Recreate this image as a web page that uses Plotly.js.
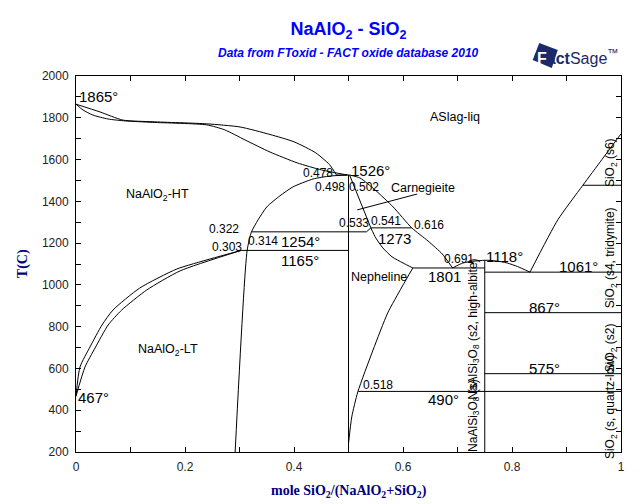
<!DOCTYPE html>
<html><head><meta charset="utf-8">
<script src="https://cdn.plot.ly/plotly-3.0.1.min.js"></script>
<style>html,body{margin:0;padding:0;background:#fff}#chart{width:640px;height:504px}</style>
</head><body><div id="chart"></div>
<script>
// x = mole SiO2/(NaAlO2+SiO2), T in °C
const liqNaAlO2X = [0, 0.044, 0.086, 0.141, 0.240, 0.301, 0.356, 0.400, 0.440, 0.465, 0.478];
const liqNaAlO2T = [1865, 1828, 1789, 1781, 1771, 1756, 1720, 1685, 1632, 1576, 1526];
const solNaAlO2X = [0, 0.013, 0.031, 0.059, 0.090, 0.141, 0.240, 0.273, 0.310, 0.356, 0.406, 0.451, 0.498];
const solNaAlO2T = [1865, 1837, 1813, 1794, 1785, 1778, 1766, 1742, 1694, 1636, 1584, 1550, 1526];
const solvusX = [0.292, 0.314, 0.322, 0.334, 0.350, 0.374, 0.398, 0.435, 0.466, 0.498];
const solvusT = [200, 1165, 1254, 1311, 1373, 1426, 1469, 1507, 1521, 1526];
const ltOuterX = [0, 0.0073, 0.0257, 0.0477, 0.068, 0.117, 0.185, 0.246, 0.303];
const ltOuterT = [467, 607, 703, 808, 880, 985, 1076, 1124, 1165];
const ltInnerX = [0, 0.0165, 0.035, 0.059, 0.084, 0.130, 0.191, 0.303];
const ltInnerT = [467, 607, 698, 808, 880, 976, 1067, 1165];
const carnSolX = [0.502, 0.541];
const carnSolT = [1526, 1273];
const carnTieX = [0.533, 0.541];
const carnTieT = [1254, 1273];
const nephUpX = [0.541, 0.550, 0.563, 0.580, 0.600, 0.618];
const nephUpT = [1273, 1225, 1177, 1134, 1105, 1081];
const nephLowX = [0.500, 0.506, 0.517, 0.545, 0.572, 0.598, 0.618];
const nephLowT = [240, 368, 487, 688, 866, 990, 1081];
const liqCarnX = [0.502, 0.521, 0.549, 0.582, 0.616, 0.646, 0.672, 0.691];
const liqCarnT = [1526, 1512, 1454, 1373, 1273, 1210, 1148, 1081];
const liqAlbX = [0.691, 0.710, 0.732, 0.750, 0.770, 0.791, 0.810, 0.833];
const liqAlbT = [1081, 1105, 1114, 1118, 1115, 1105, 1088, 1061];
const liqSilX = [0.833, 0.884, 0.930, 0.965, 1.0];
const liqSilT = [1061, 1311, 1477, 1600, 1723];
// invariant (horizontal) lines
const invT  = [1526, 1254, 1165, 1273, 1081, 1061, 867, 575, 490, 1477];
const invX0 = [0.478, 0.322, 0.303, 0.541, 0.618, 0.75, 0.75, 0.75, 0.518, 0.930];
const invX1 = [0.502, 0.533, 0.500, 0.616, 0.750, 1.0, 1.0, 1.0, 1.0, 1.0];
// compound (vertical) lines
const compX = [0.5, 0.75];
const compTop = [1526, 1118];
const compBottom = [200, 200];
// carnegieite label leader
const leaderX = [0.516, 0.626];
const leaderT = [1359, 1435];

const traces = [];
function addLine(x, y, curved) {
  const line = {color: '#000', width: 1};
  if (curved) { line.shape = 'spline'; line.smoothing = 0.6; }
  traces.push({x: x, y: y, type: 'scatter', mode: 'lines', line: line,
    hoverinfo: 'skip', showlegend: false});
}
addLine(liqNaAlO2X, liqNaAlO2T, true);
addLine(solNaAlO2X, solNaAlO2T, true);
addLine(solvusX, solvusT, true);
addLine(ltOuterX, ltOuterT, true);
addLine(ltInnerX, ltInnerT, true);
addLine(carnSolX, carnSolT, false);
addLine(carnTieX, carnTieT, false);
addLine(nephUpX, nephUpT, true);
addLine(nephLowX, nephLowT, true);
addLine(liqCarnX, liqCarnT, true);
addLine(liqAlbX, liqAlbT, true);
addLine(liqSilX, liqSilT, true);
addLine(leaderX, leaderT, false);
for (let i = 0; i < invT.length; i++) addLine([invX0[i], invX1[i]], [invT[i], invT[i]], false);
for (let i = 0; i < compX.length; i++) addLine([compX[i], compX[i]], [compBottom[i], compTop[i]], false);

const F = 'Liberation Sans, Arial, sans-serif';
const BIG = 15, SMALL = 12, PH = 12.5;
// [text, x, T, size, xanchor, angle]
const labels = [
  ['1865°', 0.004, 1900, BIG, 'left', 0],
  ['ASlag-liq', 0.695, 1804, PH, 'center', 0],
  ['1723°', 1.003, 1741, BIG, 'right', 0],
  ['1526°', 0.503, 1550, BIG, 'left', 0],
  ['0.478', 0.473, 1536, SMALL, 'right', 0],
  ['0.498', 0.495, 1469, SMALL, 'right', 0],
  ['0.502', 0.499, 1469, SMALL, 'left', 0],
  ['Carnegieite', 0.576, 1464, PH, 'left', 0],
  ['NaAlO<sub>2</sub>-HT', 0.090, 1430, PH, 'left', 0],
  ['1477°', 1.003, 1426, BIG, 'right', 0],
  ['0.322', 0.301, 1268, SMALL, 'right', 0],
  ['0.533', 0.481, 1296, SMALL, 'left', 0],
  ['0.541', 0.539, 1306, SMALL, 'left', 0],
  ['0.616', 0.618, 1287, SMALL, 'left', 0],
  ['1254°', 0.374, 1210, BIG, 'left', 0],
  ['1273', 0.552, 1224, BIG, 'left', 0],
  ['0.303', 0.306, 1181, SMALL, 'right', 0],
  ['0.314', 0.314, 1210, SMALL, 'left', 0],
  ['1165°', 0.374, 1119, BIG, 'left', 0],
  ['0.691', 0.673, 1124, SMALL, 'left', 0],
  ['1118°', 0.750, 1138, BIG, 'left', 0],
  ['1061°', 0.884, 1086, BIG, 'left', 0],
  ['Nepheline', 0.503, 1038, PH, 'left', 0],
  ['1801', 0.644, 1038, BIG, 'left', 0],
  ['867°', 0.829, 890, BIG, 'left', 0],
  ['NaAlO<sub>2</sub>-LT', 0.112, 688, PH, 'left', 0],
  ['575°', 0.829, 602, BIG, 'left', 0],
  ['0.518', 0.525, 521, SMALL, 'left', 0],
  ['467°', 0.002, 463, BIG, 'left', 0],
  ['490°', 0.644, 449, BIG, 'left', 0],
  ['NaAlSi<sub>3</sub>O<sub>8</sub> (s)', 0.730, 377, SMALL, 'center', -90],
  ['NaAlSi<sub>3</sub>O<sub>8</sub> (s2, high-albite)', 0.730, 789, SMALL, 'center', -90],
  ['SiO<sub>2</sub> (s, quartz-low)', 0.982, 416, SMALL, 'center', -90],
  ['SiO<sub>2</sub> (s2)', 0.982, 698, SMALL, 'center', -90],
  ['SiO<sub>2</sub> (s4, tridymite)', 0.982, 1129, SMALL, 'center', -90],
  ['SiO<sub>2</sub> (s6)', 0.982, 1584, SMALL, 'center', -90]
];
const annotations = labels.map(l => ({
  text: l[0], x: l[1], y: l[2], xref: 'x', yref: 'y', showarrow: false,
  xanchor: l[4], yanchor: 'middle', textangle: l[5], borderpad: 0,
  font: {family: F, size: l[3], color: '#000'}
}));
annotations.push({text: '<b><i>Data from FToxid - FACT oxide database 2010</i></b>', xref: 'paper', yref: 'paper',
  x: 0.5, y: 1.061, showarrow: false, xanchor: 'center', yanchor: 'middle',
  font: {family: 'Liberation Sans, Arial', size: 12, color: '#0000ff'}});
annotations.push({text: 'T(C)', xref: 'paper', yref: 'paper', x: -0.097, y: 0.5, textangle: -90,
  showarrow: false, xanchor: 'center', yanchor: 'middle',
  font: {family: 'Liberation Serif, Times New Roman, serif', size: 14, color: '#000080', weight: 'bold'}});
annotations.push({text: '<b>mole SiO<sub>2</sub>/(NaAlO<sub>2</sub>+SiO<sub>2</sub>)</b>', xref: 'paper', yref: 'paper',
  x: 0.5, y: -0.104, showarrow: false, xanchor: 'center', yanchor: 'middle',
  font: {family: 'Liberation Serif, Times New Roman, serif', size: 14, color: '#000080'}});
annotations.push({text: '<b><span style="color:#ffffff">F</span>act</b>Sage<sup>™</sup>', xref: 'paper', yref: 'paper',
  x: 0.843, y: 1.05, showarrow: false, xanchor: 'left', yanchor: 'middle',
  font: {family: 'Liberation Sans Narrow, Liberation Sans, Arial', size: 16, color: '#1b2a6b'}});

const layout = {
  width: 640, height: 504,
  margin: {l: 76, r: 19, t: 76, b: 52},
  paper_bgcolor: '#fff', plot_bgcolor: '#fff',
  title: {text: '<b>NaAlO<sub>2</sub> - SiO<sub>2</sub></b>', xref: 'paper', x: 0.5, xanchor: 'center',
    yref: 'container', y: 1 - 29 / 504, yanchor: 'middle',
    font: {family: 'Liberation Sans, Arial', size: 18, color: '#0000ff'}},
  xaxis: {range: [0, 1], dtick: 0.2, tick0: 0, ticks: 'inside', ticklen: 5, tickcolor: '#000',
    minor: {dtick: 0.1, ticks: 'inside', ticklen: 5, tickcolor: '#000'},
    showline: true, linecolor: '#000', linewidth: 1, mirror: 'allticks', showgrid: false, zeroline: false,
    tickfont: {family: F, size: 12, color: '#222'}, ticklabelstandoff: 4},
  yaxis: {range: [200, 2000], dtick: 200, tick0: 0, ticks: 'inside', ticklen: 5, tickcolor: '#000',
    minor: {dtick: 100, ticks: 'inside', ticklen: 5, tickcolor: '#000'},
    showline: true, linecolor: '#000', linewidth: 1, mirror: 'allticks', showgrid: false, zeroline: false,
    tickfont: {family: F, size: 12, color: '#222'}, ticklabelstandoff: 4},
  annotations: annotations,
  shapes: [{type: 'path', xref: 'paper', yref: 'paper', layer: 'below',
    path: 'M 0.850 1.0878 L 0.884 1.069 L 0.873 1.0213 L 0.838 1.0426 Z',
    fillcolor: '#1b2a6b', line: {width: 0}}]
};
Plotly.newPlot('chart', traces, layout, {staticPlot: true, displayModeBar: false});
</script></body></html>
